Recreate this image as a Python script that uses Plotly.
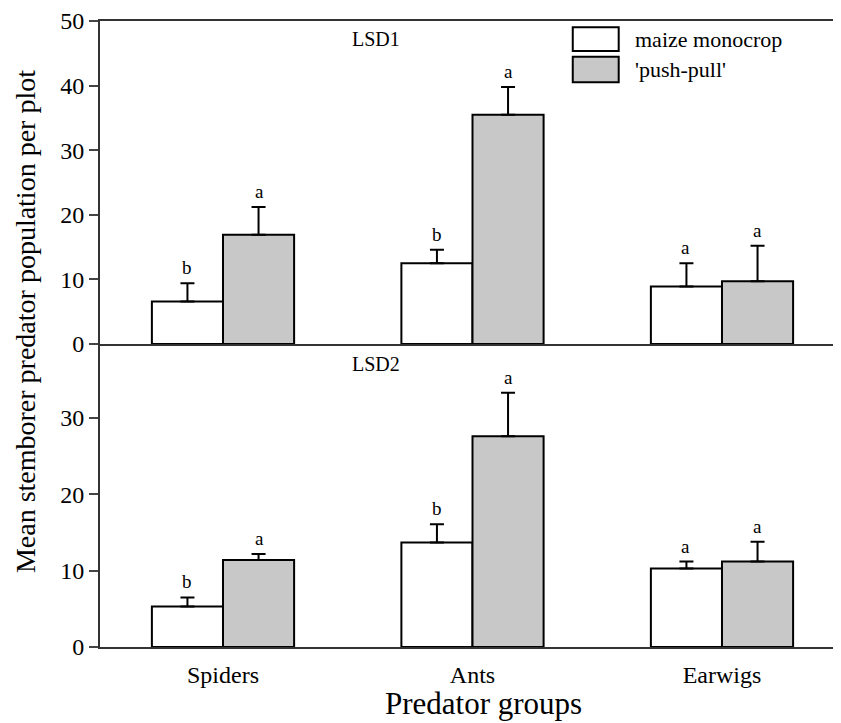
import plotly.graph_objects as go

categories = ["Spiders", "Ants", "Earwigs"]

# LSD1 (top panel)
lsd1_mono = [6.6, 12.5, 8.9]
lsd1_mono_se = [2.8, 2.1, 3.6]
lsd1_pp = [16.9, 35.5, 9.7]
lsd1_pp_se = [4.3, 4.3, 5.5]
lsd1_mono_letters = ["b", "b", "a"]
lsd1_pp_letters = ["a", "a", "a"]

# LSD2 (bottom panel)
lsd2_mono = [5.3, 13.7, 10.3]
lsd2_mono_se = [1.2, 2.4, 0.9]
lsd2_pp = [11.4, 27.6, 11.2]
lsd2_pp_se = [0.8, 5.7, 2.6]
lsd2_mono_letters = ["b", "b", "a"]
lsd2_pp_letters = ["a", "a", "a"]

series_names = ["maize monocrop", "'push-pull'"]
top_ticks = [0, 10, 20, 30, 40, 50]
bottom_ticks = [0, 10, 20, 30]

FONT = "Liberation Serif"
GREY = "#c8c8c8"

fig = go.Figure()

def add_bars(vals, se, color, xa, ya, name):
    fig.add_trace(go.Bar(
        x=categories, y=vals, name=name, xaxis=xa, yaxis=ya,
        marker=dict(color=color, line=dict(color="black", width=2)),
        error_y=dict(type="data", symmetric=False, array=se,
                     arrayminus=[0] * len(se), color="black",
                     thickness=2, width=7),
        showlegend=False,
    ))

add_bars(lsd2_mono, lsd2_mono_se, "white", "x", "y", series_names[0])
add_bars(lsd2_pp, lsd2_pp_se, GREY, "x", "y", series_names[1])
add_bars(lsd1_mono, lsd1_mono_se, "white", "x2", "y2", series_names[0])
add_bars(lsd1_pp, lsd1_pp_se, GREY, "x2", "y2", series_names[1])

annotations = []
def add_letters(vals, se, letters, xref, yref, shift):
    for c, v, s, l in zip(categories, vals, se, letters):
        annotations.append(dict(x=c, y=v + s, xref=xref, yref=yref,
                                text=l, showarrow=False, xshift=shift,
                                yanchor="bottom", yshift=3,
                                font=dict(family=FONT, size=19, color="black")))

add_letters(lsd1_mono, lsd1_mono_se, lsd1_mono_letters, "x2", "y2", -36)
add_letters(lsd1_pp, lsd1_pp_se, lsd1_pp_letters, "x2", "y2", 36)
add_letters(lsd2_mono, lsd2_mono_se, lsd2_mono_letters, "x", "y", -36)
add_letters(lsd2_pp, lsd2_pp_se, lsd2_pp_letters, "x", "y", 36)

annotations += [
    dict(x=0.372, y=0.971, xref="paper", yref="paper", text="LSD1",
         showarrow=False, yanchor="middle",
         font=dict(family=FONT, size=20, color="black")),
    dict(x=0.372, y=0.452, xref="paper", yref="paper", text="LSD2",
         showarrow=False, yanchor="middle",
         font=dict(family=FONT, size=20, color="black")),
    dict(x=0.719, y=0.971, xref="paper", yref="paper", text=series_names[0],
         xanchor="left", yanchor="middle", showarrow=False,
         font=dict(family=FONT, size=22, color="black")),
    dict(x=0.719, y=0.922, xref="paper", yref="paper", text=series_names[1],
         xanchor="left", yanchor="middle", showarrow=False,
         font=dict(family=FONT, size=22, color="black")),
    dict(x=0, y=0.519, xref="paper", yref="paper", xshift=-75,
         xanchor="center", yanchor="middle",
         text="Mean stemborer predator population per plot", textangle=-90,
         showarrow=False, font=dict(family=FONT, size=28, color="black")),
    dict(x=0.518, y=0, xref="paper", yref="paper", yshift=-37,
         yanchor="top", text="Predator groups", showarrow=False,
         font=dict(family=FONT, size=31, color="black")),
]

shapes = [
    dict(type="rect", xref="paper", yref="paper", x0=0.638, x1=0.700,
         y0=0.952, y1=0.990, fillcolor="white", line=dict(color="black", width=2)),
    dict(type="rect", xref="paper", yref="paper", x0=0.638, x1=0.700,
         y0=0.902, y1=0.943, fillcolor=GREY, line=dict(color="black", width=2)),
]

xrange = [-0.493, 2.477]
fig.update_layout(
    width=833, height=715,
    margin=dict(l=92, r=0, t=9, b=76),
    paper_bgcolor="white", plot_bgcolor="white",
    barmode="group", bargap=0.43, bargroupgap=0,
    font=dict(family=FONT, color="black"),
    annotations=annotations, shapes=shapes,
    xaxis=dict(domain=[0, 1], anchor="y", range=xrange, showline=True,
               linecolor="#333", linewidth=2, ticks="outside", ticklen=5,
               tickcolor="rgba(0,0,0,0)", showgrid=False,
               tickfont=dict(family=FONT, size=24, color="black")),
    yaxis=dict(domain=[0, 0.484], range=[0, 39.7], tickvals=bottom_ticks,
               showline=True, linecolor="#333", linewidth=2, ticks="outside",
               ticklen=9, tickwidth=1.5, showgrid=False, zeroline=False,
               ticklabeloverflow="allow",
               tickfont=dict(family=FONT, size=24, color="black")),
    xaxis2=dict(domain=[0, 1], anchor="y2", matches="x", range=xrange,
                showline=True, mirror=True, linecolor="#333", linewidth=2,
                showticklabels=False, ticks="", showgrid=False),
    yaxis2=dict(domain=[0.484, 1], range=[0, 50], tickvals=top_ticks,
                showline=True, linecolor="#333", linewidth=2, ticks="outside",
                ticklen=9, tickwidth=1.5, showgrid=False, zeroline=False,
                ticklabeloverflow="allow",
                tickfont=dict(family=FONT, size=24, color="black")),
)

fig.write_html("out.html")
